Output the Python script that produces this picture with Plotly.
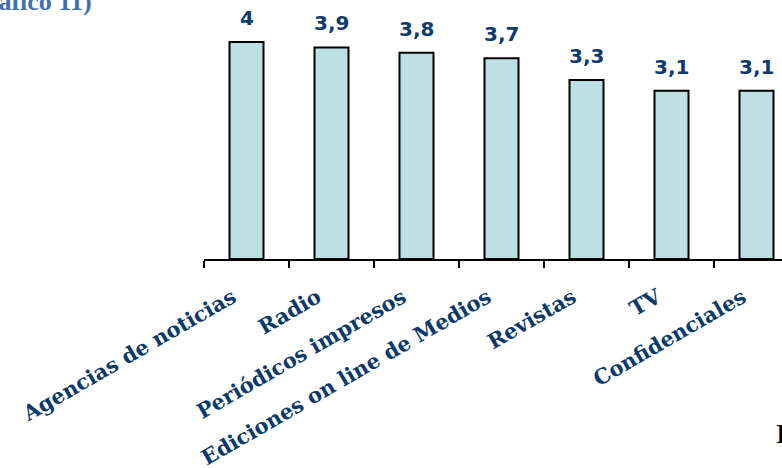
import plotly.graph_objects as go

categories = ["Agencias de noticias", "Radio", "Periódicos impresos",
              "Ediciones on line de Medios", "Revistas", "TV", "Confidenciales"]
values = [4.0, 3.9, 3.8, 3.7, 3.3, 3.1, 3.1]
value_labels = ["4", "3,9", "3,8", "3,7", "3,3", "3,1", "3,1"]
title_text = "(Gráfico 11)"
corner_text = "I"

W, H = 782, 468
ML, MR, MT, MB = 204, 0, 20, H - 259
PW, PH = W - ML - MR, H - MT - MB

def px_x(p):
    return (p - ML) / PW

def px_y(p):
    return (H - MB - p) / PH

fig = go.Figure(go.Bar(
    x=categories, y=values, width=0.4,
    marker=dict(color="#BCE0E3", line=dict(color="#000000", width=2)),
    hoverinfo="skip",
))

annotations = []
for c, v, t in zip(categories, values, value_labels):
    annotations.append(dict(x=c, y=v, text=t, showarrow=False, yshift=24,
                            yanchor="middle",
                            font=dict(family="DejaVu Sans", size=20, color="#0D3B6E",
                                      weight="bold")))
annotations.append(dict(xref="paper", yref="paper", x=px_x(94), y=px_y(2),
                        xanchor="right", yanchor="middle", text=title_text,
                        showarrow=False,
                        font=dict(family="Liberation Serif", size=26, color="#3F6FAE",
                                  weight="bold")))
annotations.append(dict(xref="paper", yref="paper", x=px_x(774), y=px_y(433),
                        xanchor="left", yanchor="middle", text=corner_text,
                        showarrow=False,
                        font=dict(family="Liberation Serif", size=28, color="#000000",
                                  weight="bold")))

fig.update_layout(
    width=W, height=H,
    margin=dict(l=ML, r=MR, t=MT, b=MB, autoexpand=False),
    paper_bgcolor="white", plot_bgcolor="white",
    showlegend=False,
    annotations=annotations,
    xaxis=dict(range=[-0.5, -0.5 + PW / 85.0], showline=True, linecolor="#000000",
               linewidth=2, ticks="outside", tickson="boundaries", ticklen=7,
               tickwidth=2, tickcolor="#000000", showgrid=False, tickangle=-30,
               ticklabelstandoff=16, ticklabelshift=-14,
               tickfont=dict(family="DejaVu Serif", size=21, color="#0A3A6A",
                             weight="bold")),
    yaxis=dict(range=[0, PH / 54.25], visible=False, showgrid=False),
)

fig.write_html("out.html", config={"displayModeBar": False},
               post_script="document.body.style.margin='0';")
